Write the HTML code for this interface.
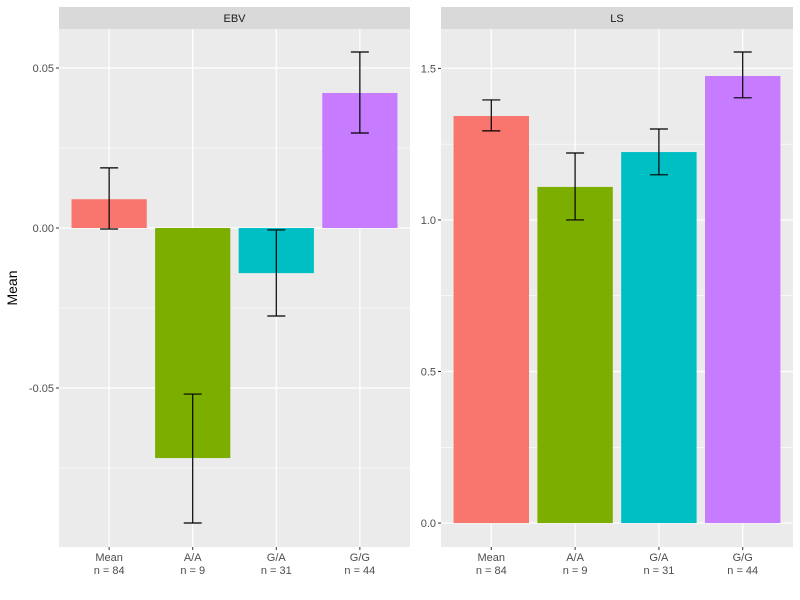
<!DOCTYPE html>
<html><head><meta charset="utf-8"><style>
body{margin:0;background:#fff;}
svg{display:block;font-family:"Liberation Sans",sans-serif;}
</style></head><body>
<svg id="chart" width="800" height="600"></svg>
<script>
const categories=["Mean","A/A","G/A","G/G"];
const counts=["n = 84","n = 9","n = 31","n = 44"];
const colors=["#F8766D","#7CAE00","#00BFC4","#C77CFF"];
const ebvMean=[0.0090,-0.0719,-0.0141,0.0422];
const ebvLow=[-0.0003,-0.0922,-0.0275,0.0297];
const ebvHigh=[0.0188,-0.0519,-0.0006,0.0550];
const lsMean=[1.343,1.109,1.224,1.475];
const lsLow=[1.294,1.000,1.149,1.403];
const lsHigh=[1.396,1.221,1.300,1.554];
const ebvTicks=[0.05,0.00,-0.05];
const ebvTickLabels=["0.05","0.00","-0.05"];
const lsTicks=[1.5,1.0,0.5,0.0];
const lsTickLabels=["1.5","1.0","0.5","0.0"];

const NS="http://www.w3.org/2000/svg";
const svg=document.getElementById('chart');
function mk(tag,attrs,parent){const e=document.createElementNS(NS,tag);for(const k in attrs)e.setAttribute(k,attrs[k]);(parent||svg).appendChild(e);return e;}

function panel(opt){
  const {x0,x1,y0,y1,vmin,vmax,title,means,lows,highs,ticks,tickLabels,key}=opt;
  const g=mk('g',{});
  
  
  const ys=v=>y1-(v-vmin)/(vmax-vmin)*(y1-y0);
  const unit=(x1-x0)/4.2;
  const xs=i=>x0+unit*(0.6+i);
  mk('rect',{x:x0,y:y0,width:x1-x0,height:y1-y0,fill:'#EBEBEB'},g);
  // minor grid
  const step=ticks[0]-ticks[1];
  for(let t=ticks[ticks.length-1]-step*3;t<=ticks[0]+step*3;t+=step){
    const m=t+step/2, y=ys(m);
    if(y>y0&&y<y1) mk('line',{x1:x0,x2:x1,y1:y,y2:y,stroke:'#fff','stroke-width':0.6},g);
  }
  ticks.forEach((t,i)=>{
    const y=ys(t);
    mk('line',{x1:x0,x2:x1,y1:y,y2:y,stroke:'#fff','stroke-width':1.2},g);
    mk('line',{x1:x0-3,x2:x0,y1:y,y2:y,stroke:'#333','stroke-width':1},g);
    const tx=mk('text',{x:x0-5,y:y+4,'text-anchor':'end','font-size':11,fill:'#4D4D4D'},g);
    tx.textContent=tickLabels[i];
    
    
  });
  categories.forEach((c,i)=>{
    const x=xs(i);
    mk('line',{x1:x,x2:x,y1:y0,y2:y1,stroke:'#fff','stroke-width':1.2},g);
    mk('line',{x1:x,x2:x,y1:y1,y2:y1+3,stroke:'#333','stroke-width':1},g);
    const t1=mk('text',{x:x,y:y1+14,'text-anchor':'middle','font-size':11,fill:'#4D4D4D'},g);
    t1.textContent=c;
    
    
    const t2=mk('text',{x:x,y:y1+27,'text-anchor':'middle','font-size':11,fill:'#4D4D4D'},g);
    t2.textContent=counts[i];
    
    
  });
  const bw=unit*0.9;
  means.forEach((v,i)=>{
    const a=ys(0),b=ys(v);
    const r=mk('rect',{x:xs(i)-bw/2,y:Math.min(a,b),width:bw,height:Math.abs(a-b),fill:colors[i]},g);
    
    
  });
  means.forEach((v,i)=>{
    const x=xs(i),yl=ys(lows[i]),yh=ys(highs[i]),cw=9;
    const e=mk('g',{stroke:'#000','stroke-width':1.2},g);
    
    
    mk('line',{x1:x,x2:x,y1:yl,y2:yh},e);
    mk('line',{x1:x-cw,x2:x+cw,y1:yl,y2:yl},e);
    mk('line',{x1:x-cw,x2:x+cw,y1:yh,y2:yh},e);
  });
  mk('rect',{x:x0,y:7,width:x1-x0,height:22,fill:'#D9D9D9'},g);
  const st=mk('text',{x:(x0+x1)/2,y:22,'text-anchor':'middle','font-size':11,fill:'#1A1A1A'},g);
  st.textContent=title;
  
  
}
panel({x0:59,x1:410,y0:29,y1:547,vmin:-0.0997,vmax:0.0622,title:'EBV',means:ebvMean,lows:ebvLow,highs:ebvHigh,ticks:ebvTicks,tickLabels:ebvTickLabels,key:'ebv'});
panel({x0:441,x1:793,y0:29,y1:547,vmin:-0.079,vmax:1.630,title:'LS',means:lsMean,lows:lsLow,highs:lsHigh,ticks:lsTicks,tickLabels:lsTickLabels,key:'ls'});
const yt=mk('text',{x:0,y:0,transform:'translate(17,288) rotate(-90)','text-anchor':'middle','font-size':14,fill:'#000'});
yt.textContent='Mean';


</script>
</body></html>
